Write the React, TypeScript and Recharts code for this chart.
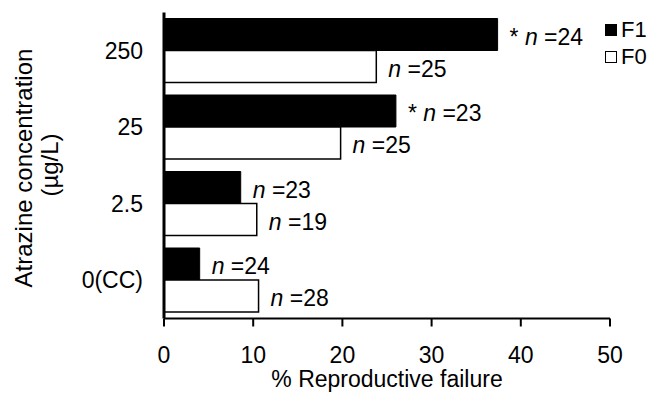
import { BarChart, Bar, XAxis, YAxis, Legend, LabelList } from "recharts";

// Atrazine concentration groups (top to bottom)
const concentrations = ["250", "25", "2.5", "0(CC)"];
const f1Failure = [37.4, 26.0, 8.6, 4.0];
const f0Failure = [23.8, 19.8, 10.4, 10.6];
const f1N = [24, 23, 23, 24];
const f0N = [25, 25, 19, 28];
const f1Star = [true, true, false, false];
const f0Star = [false, false, false, false];
const xTicks = [0, 10, 20, 30, 40, 50];
const legendOrder = ["F1", "F0"];

const FONT = "'Liberation Sans', Arial, Helvetica, sans-serif";

const data = concentrations.map((conc, i) => ({
  conc,
  F1: f1Failure[i],
  F0: f0Failure[i],
}));

const makeLabel = (ns: number[], stars: boolean[]) => (props: any) => {
  const { x, y, width, height, index } = props;
  const lx = Number(x) + Number(width) + 12;
  const ly = Number(y) + Number(height) / 2 + 10;
  return (
    <text x={lx} y={ly} fontSize={23} fontFamily={FONT} fill="#000" style={{ whiteSpace: "pre" }}>
      {stars[index] ? "* " : ""}
      <tspan fontStyle="italic">n</tspan>
      {" =" + ns[index]}
    </text>
  );
};

const renderLegend = (props: any) => {
  const payload = [...(props.payload || [])].sort(
    (a: any, b: any) => legendOrder.indexOf(a.value) - legendOrder.indexOf(b.value)
  );
  return (
    <div style={{ fontFamily: FONT, fontSize: 22, color: "#000" }}>
      {payload.map((entry: any) => (
        <div key={entry.value} style={{ display: "flex", alignItems: "center", height: 27 }}>
          <span
            style={{
              display: "inline-block",
              width: 12,
              height: 12,
              boxSizing: "border-box",
              border: "1px solid #000",
              background: entry.value === "F1" ? "#000" : "#fff",
              marginRight: 4,
            }}
          />
          <span>{entry.value}</span>
        </div>
      ))}
    </div>
  );
};

const YTitle = () => (
  <g>
    <text
      x={32}
      y={168}
      transform="rotate(-90, 32, 168)"
      textAnchor="middle"
      fontSize={24}
      fontFamily={FONT}
      fill="#000"
    >
      Atrazine concentration
    </text>
    <text
      x={58}
      y={165}
      transform="rotate(-90, 58, 165)"
      textAnchor="middle"
      fontSize={24}
      fontFamily={FONT}
      fill="#000"
    >
      (µg/L)
    </text>
  </g>
);

const XTitle = (props: any) => {
  const { viewBox } = props;
  return (
    <text
      x={viewBox.x + viewBox.width / 2}
      y={viewBox.y + viewBox.height - 11}
      textAnchor="middle"
      fontSize={23}
      fontFamily={FONT}
      fill="#000"
    >
      % Reproductive failure
    </text>
  );
};

export default function App() {
  return (
    <div style={{ position: "absolute", left: 0, top: 0, width: 653, height: 398, background: "#fff" }}>
      <BarChart
        width={653}
        height={398}
        data={data}
        layout="vertical"
        margin={{ top: 12.5, right: 43, bottom: 0, left: 0 }}
        barCategoryGap={6}
        barGap={0}
      >
        <XAxis
          type="number"
          domain={[0, 50]}
          ticks={xTicks}
          height={79.5}
          tickSize={8}
          tickMargin={20}
          axisLine={{ stroke: "#000", strokeWidth: 2 }}
          tickLine={{ stroke: "#000", strokeWidth: 2 }}
          tick={{ fill: "#000", fontSize: 23, fontFamily: FONT }}
          label={<XTitle />}
        />
        <YAxis
          type="category"
          dataKey="conc"
          width={164}
          tickSize={0}
          tickMargin={21}
          tickLine={false}
          axisLine={{ stroke: "#000", strokeWidth: 3 }}
          tick={{ fill: "#000", fontSize: 23, fontFamily: FONT }}
          label={<YTitle />}
        />
        <Legend
          layout="vertical"
          verticalAlign="middle"
          align="center"
          content={renderLegend}
          wrapperStyle={{ top: 16, left: 605, width: 48 }}
        />
        <Bar dataKey="F1" fill="#000" stroke="#000" strokeWidth={1} isAnimationActive={false}>
          <LabelList dataKey="F1" content={makeLabel(f1N, f1Star)} />
        </Bar>
        <Bar dataKey="F0" fill="#fff" stroke="#000" strokeWidth={1.5} isAnimationActive={false}>
          <LabelList dataKey="F0" content={makeLabel(f0N, f0Star)} />
        </Bar>
      </BarChart>
    </div>
  );
}
